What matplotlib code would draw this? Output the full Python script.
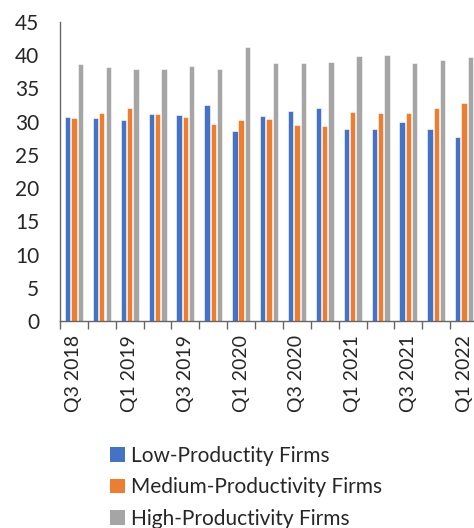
import matplotlib
matplotlib.use("Agg")
import matplotlib.pyplot as plt
import numpy as np
from matplotlib.patches import Patch

categories = ["Q3 2018", "Q4 2018", "Q1 2019", "Q2 2019", "Q3 2019", "Q4 2019",
              "Q1 2020", "Q2 2020", "Q3 2020", "Q4 2020", "Q1 2021", "Q2 2021",
              "Q3 2021", "Q4 2021", "Q1 2022"]
low = [30.75, 30.6, 30.25, 31.1, 30.95, 32.5, 28.65, 30.9, 31.65, 32.0, 28.85, 28.85, 29.9, 28.85, 27.65]
medium = [30.6, 31.25, 32.0, 31.1, 30.75, 29.7, 30.25, 30.4, 29.5, 29.35, 31.4, 31.25, 31.25, 32.0, 32.85]
high = [38.65, 38.3, 37.95, 37.95, 38.45, 37.95, 41.25, 38.8, 38.8, 39.0, 39.85, 40.05, 38.8, 39.35, 39.7]
series_names = ["Low-Productity Firms", "Medium-Productivity Firms", "High-Productivity Firms"]
yticks = [0, 5, 10, 15, 20, 25, 30, 35, 40, 45]

colors = ["#4472C4", "#ED7D31", "#A5A5A5"]
text_color = "#262626"
font = ["Lato", "DejaVu Sans"]
plt.rcParams['font.family'] = font

W, H = 474, 528
fig = plt.figure(figsize=(W / 100, H / 100), dpi=100)
ax = fig.add_axes([60 / W, (H - 321) / H, 418 / W, 299 / H])

x = np.arange(len(categories))
bw = 0.19
offsets = [-0.225, 0.0, 0.23]
for vals, off, c in zip([low, medium, high], offsets, colors):
    ax.bar(x + off, vals, width=bw, color=c, edgecolor="white", linewidth=0.4, zorder=2)

ax.set_xlim(-0.5, len(categories) - 0.5)
ax.set_ylim(0, 45)
ax.set_yticks(yticks)
ax.set_yticklabels([str(v) for v in yticks], fontsize=15, color=text_color)
ax.tick_params(axis="y", length=0, pad=15)

# boundary ticks on x axis
ax.set_xticks(np.arange(-0.5, len(categories) - 0.5 + 0.01, 1.0), minor=True)
ax.set_xticks(x[::2])
ax.set_xticklabels(categories[::2], rotation=90, fontsize=14, color=text_color)
ax.tick_params(axis="x", which="major", length=0, pad=10)
ax.tick_params(axis="x", which="minor", length=6, width=1, color="#666666", direction="out")

for s in ["top", "right"]:
    ax.spines[s].set_visible(False)
for s in ["left", "bottom"]:
    ax.spines[s].set_color("#666666")
    ax.spines[s].set_linewidth(1.0)

handles = [Patch(facecolor=c, edgecolor="none") for c in colors]
fig.legend(handles, series_names, loc="upper left", bbox_to_anchor=(110 / W, (H - 446) / H),
           frameon=False, fontsize=15, handlelength=0.7, handleheight=0.7,
           handletextpad=0.3, labelspacing=0.55, borderaxespad=0, borderpad=0,
           labelcolor=text_color)

fig.savefig("out.png", dpi=100)
